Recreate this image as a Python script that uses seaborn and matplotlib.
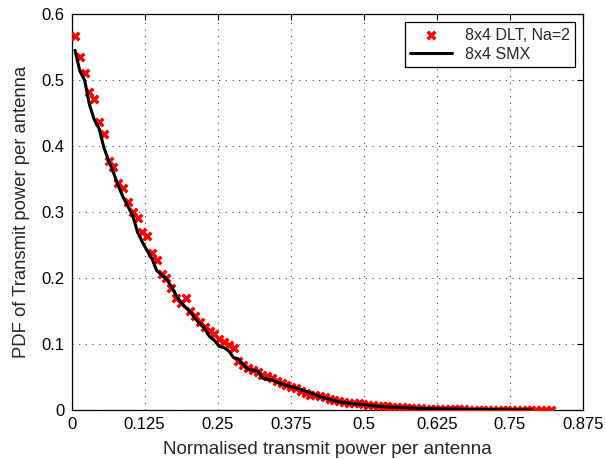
import matplotlib
matplotlib.use("Agg")
import matplotlib.pyplot as plt
import seaborn as sns
import pandas as pd

x_dlt = [0.006, 0.0142, 0.0224, 0.0307, 0.0389, 0.0471, 0.0553, 0.0635, 0.0718, 0.0800,
         0.0882, 0.0964, 0.1046, 0.1129, 0.1211, 0.1293, 0.1375, 0.1457, 0.1540, 0.1622,
         0.1704, 0.1786, 0.1868, 0.1951, 0.2033, 0.2115, 0.2197, 0.2279, 0.2362, 0.2444,
         0.2526, 0.2608, 0.2690, 0.2773, 0.2855, 0.2937, 0.3019, 0.3101, 0.3184, 0.3266,
         0.3348, 0.3430, 0.3512, 0.3595, 0.3677, 0.3759, 0.3841, 0.3923, 0.4006, 0.4088,
         0.4170, 0.4252, 0.4334, 0.4417, 0.4499, 0.4581, 0.4663, 0.4745, 0.4828, 0.4910,
         0.4992, 0.5074, 0.5156, 0.5239, 0.5321, 0.5403, 0.5485, 0.5567, 0.5650, 0.5732,
         0.5814, 0.5896, 0.5978, 0.6060, 0.6143, 0.6225, 0.6307, 0.6389, 0.6471, 0.6554,
         0.6636, 0.6718, 0.6800, 0.6882, 0.6965, 0.7047, 0.7129, 0.7211, 0.7293, 0.7376,
         0.7458, 0.7540, 0.7622, 0.7704, 0.7787, 0.7869, 0.7951, 0.8033, 0.8115, 0.8197]
y_dlt = [0.566, 0.535, 0.511, 0.482, 0.472, 0.437, 0.419, 0.378, 0.368, 0.344,
         0.336, 0.316, 0.301, 0.291, 0.270, 0.264, 0.238, 0.227, 0.207, 0.201,
         0.186, 0.170, 0.162, 0.170, 0.151, 0.143, 0.134, 0.126, 0.120, 0.115,
         0.108, 0.103, 0.099, 0.095, 0.075, 0.069, 0.064, 0.062, 0.058, 0.054,
         0.052, 0.049, 0.045, 0.041, 0.038, 0.036, 0.034, 0.029, 0.027, 0.024,
         0.023, 0.022, 0.021, 0.018, 0.016, 0.014, 0.013, 0.012, 0.012, 0.011,
         0.010, 0.009, 0.008, 0.0075, 0.007, 0.0065, 0.006, 0.006, 0.005, 0.0045,
         0.004, 0.0038, 0.0035, 0.003, 0.0028, 0.0026, 0.0024, 0.0022, 0.002, 0.0018,
         0.0016, 0.0015, 0.0014, 0.0012, 0.0011, 0.001, 0.001, 0.0009, 0.0008, 0.0007,
         0.0007, 0.0006, 0.0005, 0.0005, 0.0004, 0.0004, 0.0003, 0.0003, 0.0002, 0.0002]

x_smx = x_dlt[:96]
y_smx = [0.545, 0.514, 0.500, 0.463, 0.440, 0.427, 0.398, 0.378, 0.360, 0.340,
         0.323, 0.309, 0.295, 0.270, 0.255, 0.242, 0.230, 0.212, 0.205, 0.199,
         0.188, 0.175, 0.164, 0.156, 0.149, 0.139, 0.131, 0.124, 0.112, 0.106,
         0.097, 0.095, 0.090, 0.080, 0.078, 0.070, 0.062, 0.061, 0.060, 0.049,
         0.047, 0.046, 0.043, 0.040, 0.038, 0.036, 0.034, 0.032, 0.029, 0.027,
         0.024, 0.021, 0.019, 0.017, 0.015, 0.013, 0.012, 0.011, 0.010, 0.0095,
         0.009, 0.008, 0.007, 0.0065, 0.006, 0.0055, 0.005, 0.0048, 0.0045, 0.004,
         0.0037, 0.0034, 0.0032, 0.003, 0.0028, 0.0026, 0.0024, 0.0023, 0.0022, 0.002,
         0.0019, 0.0018, 0.0017, 0.0016, 0.0015, 0.0014, 0.0013, 0.0012, 0.0011, 0.0010,
         0.0010, 0.0009, 0.0009, 0.0008, 0.0008, 0.0007]

x_ticks = [0, 0.125, 0.25, 0.375, 0.5, 0.625, 0.75, 0.875]
x_tick_labels = ["0", "0.125", "0.25", "0.375", "0.5", "0.625", "0.75", "0.875"]
y_ticks = [0, 0.1, 0.2, 0.3, 0.4, 0.5, 0.6]
y_tick_labels = ["0", "0.1", "0.2", "0.3", "0.4", "0.5", "0.6"]
label_dlt = "8x4 DLT, Na=2"
label_smx = "8x4 SMX"

sns.set_style("white")
plt.rcParams["font.family"] = ["Liberation Sans", "DejaVu Sans"]

fig = plt.figure(figsize=(6.06, 4.59), dpi=100)
ax = fig.add_axes([0.118, 0.1057, 0.844, 0.8638])

df_dlt = pd.DataFrame({"x": x_dlt, "y": y_dlt})
df_smx = pd.DataFrame({"x": x_smx, "y": y_smx})

sns.scatterplot(data=df_dlt, x="x", y="y", ax=ax, marker="x", color="#ff0000",
                s=30, linewidth=2.5, label=label_dlt, zorder=3)
sns.lineplot(data=df_smx, x="x", y="y", ax=ax, color="black", linewidth=2.2,
             label=label_smx, zorder=4)

ax.set_xlim(0, 0.875)
ax.set_ylim(0, 0.6)
ax.set_xticks(x_ticks)
ax.set_xticklabels(x_tick_labels)
ax.set_yticks(y_ticks)
ax.set_yticklabels(y_tick_labels)
ax.set_xlabel("Normalised transmit power per antenna", fontsize=13.6, labelpad=6)
ax.set_ylabel("PDF of Transmit power per antenna", fontsize=13.3, labelpad=8)
ax.tick_params(direction="in", length=4, width=0.8, top=True, right=True,
               labelsize=12, colors="black", pad=5)
ax.grid(True, linestyle=(0, (1, 5)), color="#444444", linewidth=0.8)
for s in ax.spines.values():
    s.set_color("black")
    s.set_linewidth(0.9)

leg = ax.legend(loc="upper right", fontsize=11.5, frameon=True, fancybox=False,
                edgecolor="black", framealpha=1, borderaxespad=0.5,
                handlelength=2.6, borderpad=0.35, labelspacing=0.25)
leg.get_frame().set_linewidth(0.9)

fig.savefig("out.png", dpi=100)
